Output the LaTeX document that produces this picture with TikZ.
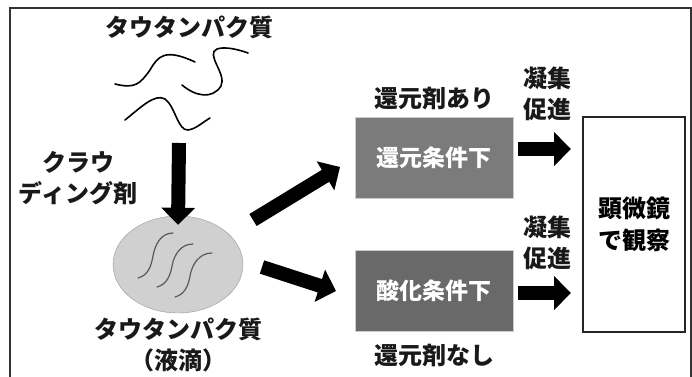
\documentclass[tikz,border=0pt]{standalone}
\usepackage{fontspec}
\newfontfamily\jp{Noto Sans CJK JP}
\usetikzlibrary{shapes.geometric, arrows.meta, positioning}
\definecolor{redgray}{HTML}{7B7B7B}
\definecolor{oxgray}{HTML}{696969}
\definecolor{dropfill}{HTML}{D0D0D0}

\begin{document}
\begin{tikzpicture}[x=1pt, y=1pt,
  caption/.style={font=\jp\bfseries\fontsize{24}{31}\selectfont, text=black!90,
    inner sep=0pt, align=center},
  condbox/.style={rectangle, draw=black!20, minimum width=158pt, minimum height=81pt,
    text centered, font=\jp\bfseries\fontsize{23}{31}\selectfont, text=white},
  obsbox/.style={rectangle, draw=black!85, line width=1.5pt, fill=white,
    minimum width=102pt, minimum height=215pt, align=center,
    font=\jp\bfseries\fontsize{24}{32}\selectfont},
  drop/.style={ellipse, draw=black!40, fill=dropfill, minimum width=130pt, minimum height=97pt},
  blockarrow/.style={-{Triangle[length=17pt,width=33pt]}, line width=14pt},
  fibril/.style={line width=1.6pt, line cap=round},
  strand/.style={line width=1.2pt, draw=black!65, line cap=round}
]
\clip (0,0) rectangle (692,376);

% outer frame
\draw[line width=2pt, black!80] (10,-10) -- (10,368) -- (691,368) -- (691,-10);

% free protein
\node (tau) [caption] at (189,349) {タウタンパク質};
\draw[fibril] (115,292) .. controls (135,287) and (140,292) .. (150,306)
  .. controls (158,320) and (165,328) .. (195,314);
\draw[fibril] (182,291) .. controls (195,280) and (212,276) .. (221,290)
  .. controls (227,302) and (205,322) .. (217,327)
  .. controls (225,330) and (240,326) .. (248,323);
\draw[fibril] (125,256) .. controls (140,268) and (155,283) .. (165,277)
  .. controls (175,270) and (178,245) .. (188,246)
  .. controls (196,247) and (203,254) .. (210,258);

% droplet
\node (droplet) [drop] at (178,111.5) {};
\draw[strand] (173,143) to[out=180,in=80] (153,120) to[out=-100,in=15] (138,98);
\draw[strand] (193,132) to[out=180,in=80] (172,110) to[out=-100,in=15] (157,89);
\draw[strand] (212,123) to[out=180,in=80] (190,100) to[out=-100,in=15] (175,79);
\node (dropletlabel) [caption, below=5pt of droplet] {タウタンパク質\\（液滴）};

\coordinate (fibrils) at (179,233);
\node (crowd) [caption] at (78,198) {クラウ\\ディング剤};
\draw[blockarrow] (fibrils) -- ([yshift=-9pt]droplet.north);

% conditions
\node (reduced) [condbox, fill=redgray] at (434,218.5) {還元条件下};
\node (oxidized) [condbox, fill=oxgray] at (434,85) {酸化条件下};
\node (withred) [caption, above=7pt of reduced] {還元剤あり};
\node (withoutred) [caption, below=12pt of oxidized] {還元剤なし};

\coordinate (up0) at (253,156);
\coordinate (up1) at (340,209);
\coordinate (dn0) at (262,109);
\coordinate (dn1) at (336,85);
\draw[blockarrow] (up0) -- (up1);
\draw[blockarrow] (dn0) -- (dn1);

% observation
\node (micro) [obsbox] at (634,151.5) {顕微鏡\\で観察};
\node (agg1) [caption] at (547,282) {凝集\\促進};
\node (agg2) [caption] at (547,133.5) {凝集\\促進};
\coordinate (rt1) at (571,227);
\coordinate (rt2) at (571,83);
\draw[blockarrow] ([xshift=5pt,yshift=8.5pt]reduced.east) -- (rt1);
\draw[blockarrow] ([xshift=5pt,yshift=-2pt]oxidized.east) -- (rt2);

\end{tikzpicture}
\end{document}
